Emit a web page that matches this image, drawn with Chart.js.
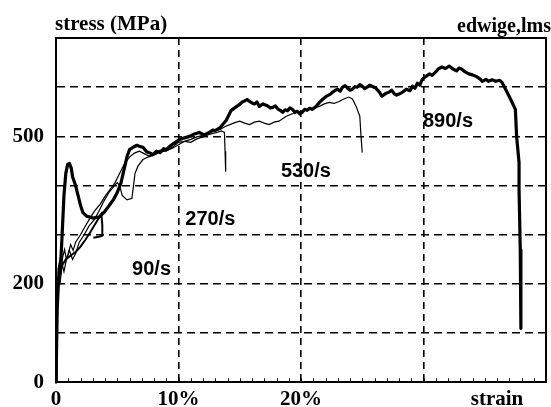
<!DOCTYPE html>
<html>
<head>
<meta charset="utf-8">
<script src="https://cdn.jsdelivr.net/npm/chart.js@4/dist/chart.umd.min.js"></script>
<style>
html,body{margin:0;padding:0;background:#fff;}
#wrap{width:551px;height:407px;position:relative;}
</style>
</head>
<body>
<div id="wrap"><canvas id="c" width="551" height="407"></canvas></div>
<script>
// ---- data (strain in %, stress in MPa) ----
const strain890 = [0,0.1,0.25,0.4,0.5,0.65,0.8,0.95,1.1,1.25,1.35,1.6,1.8,2.0,2.2,2.5,3.0,3.5,3.9,4.3,4.7,5.0,5.3,5.5,5.8,6.0,6.3,6.6,6.8,7.1,7.4,7.7,7.9,8.2,8.5,8.8,9.0,9.3,9.5,9.8,10.1,10.5,10.9,11.3,11.7,12.1,12.5,12.8,13.0,13.4,13.9,14.3,14.7,15.0,15.2,15.4,15.6,15.8,16.0,16.2,16.4,16.6,16.9,17.2,17.5,17.7,17.9,18.1,18.3,18.5,18.7,18.9,19.1,19.3,19.5,19.7,19.9,20.1,20.3,20.5,20.7,20.9,21.2,21.5,21.8,22.1,22.4,22.6,22.8,23.0,23.2,23.4,23.6,23.8,24.0,24.2,24.4,24.6,24.8,25.0,25.2,25.4,25.6,25.8,26.1,26.4,26.6,26.9,27.2,27.4,27.6,27.8,28.0,28.3,28.6,28.9,29.1,29.3,29.5,29.7,29.9,30.2,30.5,30.7,31.0,31.2,31.5,31.8,32.1,32.4,32.7,32.9,33.1,33.4,33.7,34.0,34.3,34.6,34.8,35.1,35.3,35.6,35.9,36.2,36.4,36.7,37.1,37.5,37.6,37.8,37.8,37.9,37.95];
const stress890 = [0,150,230,250,300,380,425,443,445,435,418,400,380,360,345,338,334,336,345,358,372,386,405,427,459,473,478,482,480,478,469,466,463,470,467,475,473,480,484,489,494,497,500,505,508,503,508,513,512,518,533,553,560,565,570,572,575,571,568,566,570,561,566,563,558,559,562,556,553,549,554,552,558,555,549,551,546,549,555,553,557,555,560,569,576,582,586,590,594,596,592,600,603,598,594,596,601,600,605,602,597,600,604,602,598,590,582,587,590,594,587,584,586,590,596,593,602,598,608,604,616,622,627,624,631,637,641,638,643,637,633,639,637,631,627,625,622,617,612,616,612,615,612,614,610,596,576,555,500,447,392,269,110];

const strain530 = [0,0.08,0.18,0.3,0.42,0.55,0.7,0.85,1.0,1.2,1.4,1.6,2.0,2.4,2.8,3.2,3.6,4.0,4.4,4.8,5.2,5.6,6.0,6.4,6.8,7.2,7.6,8.0,8.5,9.0,9.5,10.0,10.5,11.0,11.5,12.0,12.5,13.0,13.4,13.8,14.2,14.6,15.0,15.4,15.8,16.2,16.6,17.0,17.4,17.8,18.2,18.8,19.2,19.6,20.2,20.7,21.1,21.5,21.9,22.3,22.7,23.1,23.5,23.9,24.2,24.5,24.8,24.9,25.0];
const stress530 = [0,130,210,245,225,255,270,250,262,280,268,285,300,318,335,350,362,378,392,405,425,445,458,466,470,465,460,466,472,470,478,488,490,494,499,502,507,511,514,520,524,528,531,527,524,529,531,527,524,529,531,541,545,549,552,555,558,561,566,569,567,571,576,580,576,561,541,500,467];

const strain270 = [0,0.1,0.22,0.35,0.5,0.65,0.85,1.1,1.35,1.6,1.9,2.3,2.7,3.1,3.5,3.9,4.3,4.7,5.0,5.2,5.4,5.8,6.2,6.3,6.45,6.7,7.1,7.5,8.0,8.5,9.0,9.5,10.0,10.5,11.0,11.5,12.0,12.5,13.0,13.5,13.75,13.8,13.85];
const stress270 = [0,140,225,205,240,225,250,268,250,262,285,300,318,330,348,368,385,398,406,400,380,371,374,395,425,440,453,458,462,468,471,476,483,490,488,495,499,504,507,511,508,470,428];

const strain90 = [0,0.05,0.12,0.2,0.35,0.55,0.8,1.2,1.6,2.0,2.4,2.8,3.1,3.4,3.7,3.78,3.78,3.5,3.05];
const stress90 = [0,100,175,205,228,240,250,258,265,276,290,305,318,330,342,320,298,296,294];

const seriesNames = ['890/s','530/s','270/s','90/s'];
const xTickValues = [0,10,20,36];
const xTickTexts = ['0','10%','20%','strain'];
const yTickValues = [0,200,500];
const xGridValues = [10,20,30];
const yGridValues = [100,200,300,400,500,600];

// label anchor points (strain %, stress MPa)
const labelStrain = [32.0,20.4,12.6,7.8];
const labelStress = [530,428,331,229];

function pts(xs, ys){ return xs.map((x,i)=>({x:x,y:ys[i]})); }

const serif = 'Liberation Serif, Times New Roman, serif';
const sans = 'Liberation Sans, Arial, sans-serif';

const decor = {
  id:'decor',
  afterDraw(chart){
    const ctx = chart.ctx, a = chart.chartArea;
    const xs = chart.scales.x, ys = chart.scales.y;
    ctx.save();
    ctx.strokeStyle = '#000';
    ctx.lineWidth = 2;
    ctx.setLineDash([]);
    ctx.beginPath();
    ctx.moveTo(a.left, a.top); ctx.lineTo(a.right, a.top);
    ctx.lineTo(a.right, a.bottom);
    ctx.stroke();
    // minor ticks along the strain axis
    ctx.lineWidth = 1;
    for(let v=1; v<40; v++){
      const px = Math.round(xs.getPixelForValue(v))+0.5;
      ctx.beginPath(); ctx.moveTo(px, a.bottom); ctx.lineTo(px, a.bottom-4); ctx.stroke();
    }
    ctx.fillStyle = '#000';
    ctx.font = 'bold 21px ' + serif;
    ctx.textAlign = 'left'; ctx.textBaseline = 'alphabetic';
    ctx.fillText('stress (MPa)', a.left - 1, 30);
    ctx.textAlign = 'right';
    ctx.font = 'bold 20px ' + serif;
    ctx.fillText('edwige,lms', 551, 32);
    ctx.font = 'bold 20px ' + sans;
    ctx.textAlign = 'center'; ctx.textBaseline = 'middle';
    seriesNames.forEach((n,i)=>{
      ctx.fillText(n, xs.getPixelForValue(labelStrain[i]), ys.getPixelForValue(labelStress[i]));
    });
    ctx.restore();
  }
};

new Chart(document.getElementById('c'), {
  type:'scatter',
  data:{
    datasets:[
      {label:seriesNames[3], data:pts(strain90,stress90), showLine:true, borderColor:'#000', borderWidth:2, pointRadius:0, tension:0},
      {label:seriesNames[2], data:pts(strain270,stress270), showLine:true, borderColor:'#000', borderWidth:1.2, pointRadius:0, tension:0},
      {label:seriesNames[1], data:pts(strain530,stress530), showLine:true, borderColor:'#000', borderWidth:1.2, pointRadius:0, tension:0},
      {label:seriesNames[0], data:pts(strain890,stress890), showLine:true, borderColor:'#000', borderWidth:3.2, pointRadius:0, tension:0, borderJoinStyle:'round'}
    ]
  },
  options:{
    responsive:false,
    animation:false,
    layout:{padding:{top:38,right:2,left:0,bottom:0}},
    plugins:{legend:{display:false}, tooltip:{enabled:false}},
    scales:{
      x:{
        type:'linear', min:0, max:40,
        afterFit(s){ s.height = 24; },
        ticks:{
          stepSize:1, autoSkip:false, maxRotation:0, minRotation:0, padding:5, color:'#000',
          font:{family:serif, weight:'bold', size:21},
          callback(v){ const i = xTickValues.indexOf(v); return i>=0 ? xTickTexts[i] : ''; }
        },
        grid:{
          drawTicks:false, lineWidth:1.6,
          color(c){ return (c.tick && xGridValues.includes(c.tick.value)) ? '#000' : 'rgba(0,0,0,0)'; }
        },
        border:{display:true, width:2, color:'#000', dash:[7,5]}
      },
      y:{
        min:0, max:700,
        afterFit(s){ s.width = 56; },
        ticks:{
          stepSize:100, padding:12, color:'#000',
          font:{family:serif, weight:'bold', size:21},
          callback(v){ return yTickValues.includes(v) ? String(v) : ''; }
        },
        grid:{
          drawTicks:false, lineWidth:1.6,
          color(c){ return (c.tick && yGridValues.includes(c.tick.value)) ? '#000' : 'rgba(0,0,0,0)'; }
        },
        border:{display:true, width:2, color:'#000', dash:[8,5]}
      }
    }
  },
  plugins:[decor]
});
</script>
</body>
</html>
